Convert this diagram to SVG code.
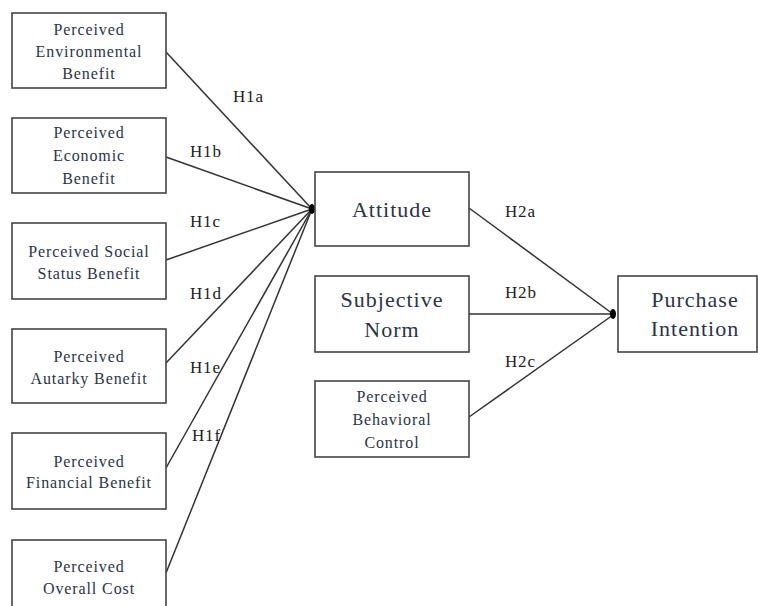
<svg xmlns="http://www.w3.org/2000/svg" width="758" height="606" viewBox="0 0 758 606">
<style>
.box{fill:#fff;stroke:#444;stroke-width:1.6}
.t{font-family:"Liberation Serif","Times New Roman",serif;fill:#2b3448;text-anchor:middle}
.s{font-size:16px;letter-spacing:0.9px}
.b{font-size:22px;letter-spacing:1px}
.lbl{font-family:"Liberation Serif","Times New Roman",serif;fill:#222;font-size:17px;letter-spacing:0.8px}
.c{stroke:#333;stroke-width:1.5;fill:none}
</style>
<rect width="758" height="606" fill="#fff"/>
<g id="connectors">
<line class="c" x1="166" y1="52" x2="312" y2="209"/>
<line class="c" x1="166" y1="157" x2="312" y2="209"/>
<line class="c" x1="166" y1="260" x2="312" y2="209"/>
<line class="c" x1="166" y1="363" x2="312" y2="209"/>
<line class="c" x1="166" y1="468" x2="312" y2="209"/>
<line class="c" x1="166" y1="573" x2="312" y2="209"/>
<ellipse cx="312" cy="209" rx="3" ry="5" fill="#000"/>
<line class="c" x1="469" y1="208" x2="613" y2="314"/>
<line class="c" x1="469" y1="314" x2="613" y2="314"/>
<line class="c" x1="469" y1="417" x2="613" y2="315"/>
<ellipse cx="613" cy="314" rx="3" ry="5" fill="#000"/>
<text class="lbl" x="233" y="102">H1a</text>
<text class="lbl" x="190" y="157">H1b</text>
<text class="lbl" x="190" y="227">H1c</text>
<text class="lbl" x="190" y="299">H1d</text>
<text class="lbl" x="190" y="373">H1e</text>
<text class="lbl" x="192" y="441">H1f</text>
<text class="lbl" x="505" y="217">H2a</text>
<text class="lbl" x="505" y="298">H2b</text>
<text class="lbl" x="505" y="367">H2c</text>
</g>
<g id="env">
<rect class="box" x="12" y="13" width="154" height="75"/>
<text class="t s" x="89" y="35">Perceived</text>
<text class="t s" x="89" y="57">Environmental</text>
<text class="t s" x="89" y="79">Benefit</text>
</g>
<g id="eco">
<rect class="box" x="12" y="118" width="154" height="75"/>
<text class="t s" x="89" y="138">Perceived</text>
<text class="t s" x="89" y="161">Economic</text>
<text class="t s" x="89" y="184">Benefit</text>
</g>
<g id="social">
<rect class="box" x="12" y="223" width="154" height="76"/>
<text class="t s" x="89" y="257">Perceived Social</text>
<text class="t s" x="89" y="279">Status Benefit</text>
</g>
<g id="autarky">
<rect class="box" x="12" y="329" width="154" height="74"/>
<text class="t s" x="89" y="362">Perceived</text>
<text class="t s" x="89" y="384">Autarky Benefit</text>
</g>
<g id="financial">
<rect class="box" x="12" y="433" width="154" height="76"/>
<text class="t s" x="89" y="467">Perceived</text>
<text class="t s" x="89" y="488">Financial Benefit</text>
</g>
<g id="cost">
<rect class="box" x="12" y="540" width="154" height="80"/>
<text class="t s" x="89" y="572">Perceived</text>
<text class="t s" x="89" y="594">Overall Cost</text>
</g>
<g id="attitude">
<rect class="box" x="315" y="172" width="154" height="74"/>
<text class="t b" x="392" y="217">Attitude</text>
</g>
<g id="norm">
<rect class="box" x="315" y="276" width="154" height="76"/>
<text class="t b" x="392" y="307">Subjective</text>
<text class="t b" x="392" y="337">Norm</text>
</g>
<g id="pbc">
<rect class="box" x="315" y="381" width="154" height="76"/>
<text class="t s" x="392" y="402">Perceived</text>
<text class="t s" x="392" y="425">Behavioral</text>
<text class="t s" x="392" y="448">Control</text>
</g>
<g id="purchase">
<rect class="box" x="618" y="276" width="139" height="76"/>
<text class="t b" x="695" y="307">Purchase</text>
<text class="t b" x="695" y="336">Intention</text>
</g>
</svg>
